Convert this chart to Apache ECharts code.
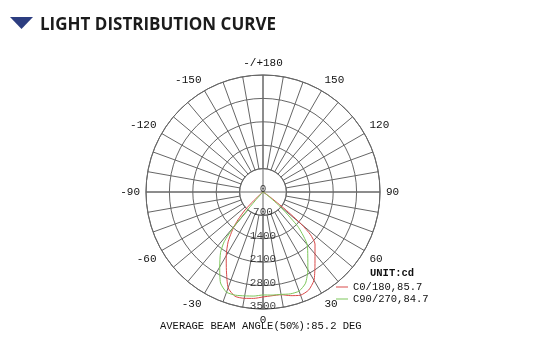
<!DOCTYPE html>
<html>
<head>
<meta charset="utf-8">
<script src="https://cdn.jsdelivr.net/npm/echarts@6/dist/echarts.min.js"></script>
<style>html,body{margin:0;padding:0;background:#fff}#c{width:549px;height:355px}</style>
</head>
<body>
<div id="c"></div>
<script>
// Gamma angles (deg), negative = left half, 0 = straight down
const gammaAngles = [-90,-60,-50,-47,-45,-42,-40,-38,-35,-30,-25,-20,-15,-10,-5,0,5,10,15,20,25,30,35,40,45,48,50,52,55,60,90];
// Intensity (cd) for C0/180 plane (red)
const c0Values = [0,0,60,360,760,1120,1350,1530,1820,2200,2590,3050,3230,3230,3195,3140,3115,3120,3210,3285,3235,3050,2710,2420,2200,1915,1500,840,240,30,0];
// Intensity (cd) for C90/270 plane (green)
const c90Values = [0,0,0,0,60,360,1350,1885,2215,2590,3005,3190,3195,3155,3125,3080,3095,3110,3155,3155,3010,2685,2335,2060,1510,930,600,300,90,0,0];
const seriesNames = ['C0/180,85.7', 'C90/270,84.7'];
const radiusTicks = [0,700,1400,2100,2800,3500];
const radiusMax = 3500;
const titleText = 'LIGHT DISTRIBUTION CURVE';
const footText = 'AVERAGE BEAM ANGLE(50%):85.2 DEG';
const unitText = 'UNIT:cd';

const mono = 'Liberation Mono';
const gridColor = '#666666';
const toAxisAngle = a => (a < 0 ? a + 360 : a);
const toPolar = vals => vals.map((v, i) => [v, toAxisAngle(gammaAngles[i])]);

const center = [263, 192];
const R = 117;

const chart = echarts.init(document.getElementById('c'), null, {renderer: 'canvas'});
chart.setOption({
  animation: false,
  backgroundColor: '#fff',
  title: [
    {text: titleText, left: 35, top: 12,
     textStyle: {fontFamily: 'Open Sans', fontWeight: 'bold', fontSize: 17, color: '#1b1b1b'}},
    {text: footText, left: 155, top: 316,
     textStyle: {fontFamily: mono, fontWeight: 'normal', fontSize: 10.5, color: '#111'}},
    {text: unitText, left: 365, top: 263,
     textStyle: {fontFamily: mono, fontWeight: 'bold', fontSize: 10.5, color: '#111'}}
  ],
  graphic: [
    {type: 'polygon', shape: {points: [[10, 17], [33, 17], [21.5, 29]]}, style: {fill: '#2c3d80'}}
  ],
  legend: {
    data: seriesNames, orient: 'vertical', left: 336, top: 281, padding: 0,
    itemWidth: 12, itemHeight: 1, itemGap: 0, icon: 'rect',
    textStyle: {fontFamily: mono, fontSize: 10.5, color: '#111', lineHeight: 12}
  },
  polar: [
    {center: center, radius: [R / 5, R]},
    {center: center, radius: [0, R]}
  ],
  radiusAxis: [
    {polarIndex: 0, type: 'value', min: 700, max: radiusMax, interval: 700,
     axisLine: {show: false}, axisTick: {show: false}, axisLabel: {show: false},
     splitLine: {show: true, lineStyle: {color: gridColor, width: 1}}},
    {polarIndex: 1, type: 'value', min: 0, max: radiusMax, interval: 700,
     axisLine: {show: false}, axisTick: {show: false}, axisLabel: {show: false},
     splitLine: {show: false}}
  ],
  angleAxis: [
    {polarIndex: 0, type: 'value', min: 0, max: 360, interval: 10, startAngle: 270, clockwise: false,
     axisLine: {show: true, lineStyle: {color: gridColor, width: 1}},
     axisTick: {show: false},
     splitLine: {show: true, lineStyle: {color: gridColor, width: 1}},
     axisLabel: {show: true, margin: 6, fontFamily: mono, fontSize: 11, color: '#111',
       formatter: v => {
         if (v % 30 !== 0 || v === 360) return '';
         if (v === 180) return '-/+180';
         return String(v > 180 ? v - 360 : v);
       }}},
    {polarIndex: 1, type: 'value', min: 0, max: 360, interval: 30, startAngle: 270, clockwise: false,
     axisLine: {show: false}, axisTick: {show: false}, axisLabel: {show: false}, splitLine: {show: false}}
  ],
  series: [
    {type: 'line', coordinateSystem: 'polar', polarIndex: 1, silent: true, symbol: 'none',
     lineStyle: {color: gridColor, width: 1}, data: [[radiusMax, 0], [radiusMax, 180]], z: 1},
    {type: 'line', coordinateSystem: 'polar', polarIndex: 1, silent: true, symbol: 'none',
     lineStyle: {color: gridColor, width: 1}, data: [[radiusMax, 90], [radiusMax, 270]], z: 1},
    {name: seriesNames[0], type: 'line', coordinateSystem: 'polar', polarIndex: 1, symbol: 'none',
     smooth: 0.2, color: '#d94a4a', lineStyle: {color: '#d94a4a', width: 1}, data: toPolar(c0Values), z: 3},
    {name: seriesNames[1], type: 'line', coordinateSystem: 'polar', polarIndex: 1, symbol: 'none',
     smooth: 0.2, color: '#7cc65a', lineStyle: {color: '#7cc65a', width: 1}, data: toPolar(c90Values), z: 3},
    {type: 'scatter', coordinateSystem: 'polar', polarIndex: 1, silent: true, symbolSize: 0,
     data: radiusTicks.map(v => [v, 0]), z: 4,
     label: {show: true, position: 'inside', offset: [0, -3], fontFamily: mono, fontSize: 11, color: '#111',
       formatter: p => String(p.value[0])}}
  ]
});
</script>
</body>
</html>
